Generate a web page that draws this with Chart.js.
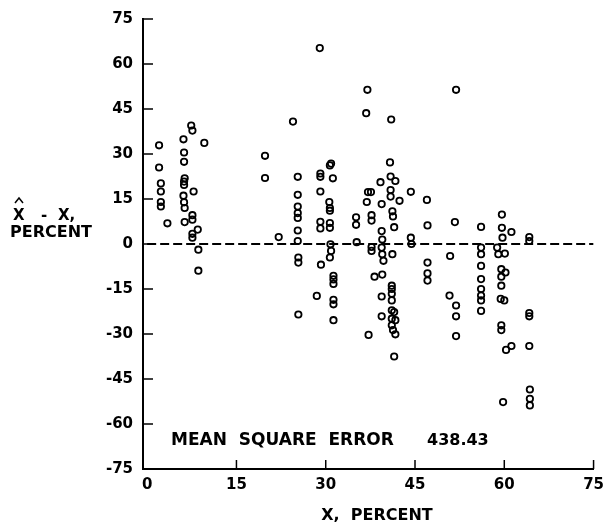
<!DOCTYPE html>
<html>
<head>
<meta charset="utf-8">
<script src="https://cdn.jsdelivr.net/npm/chart.js@4"></script>
<style>
  body { margin: 0; background: #fff; }
  canvas { display: block; }
</style>
</head>
<body>
<canvas id="errChart" width="611" height="527"></canvas>
<script>
// observed X, percent
var xPct = [
    2.0, 2.0, 2.3, 2.3, 2.3, 2.3, 3.4,
    7.4, 7.6, 6.1, 9.6, 6.2, 6.2, 6.3, 6.2, 6.2, 6.1, 6.2, 6.3, 7.8, 7.6, 7.6, 6.3, 8.5, 7.6, 7.6, 8.6, 8.6,
    19.8, 19.8, 22.1, 24.5,
    25.3, 25.3, 25.3, 25.3, 25.3, 25.3, 25.3, 25.4, 25.4, 25.4,
    29.0, 28.5, 29.2, 29.1, 29.1, 29.1, 29.1, 29.1,
    30.7, 30.9, 31.2, 30.6, 30.7, 30.7, 30.7, 30.7, 30.8, 30.9, 30.7, 31.3, 31.3, 31.3, 31.3, 31.3, 31.3,
    35.1, 35.1, 35.2,
    37.0, 36.8, 37.1, 37.6, 36.9, 37.7, 37.7, 37.7, 37.7, 38.2, 37.2,
    39.2, 39.4, 39.4, 39.5, 39.4, 39.5, 39.7, 39.5, 39.4, 39.4,
    41.0, 40.8, 40.9, 41.7, 40.9, 40.9, 42.4, 41.2, 41.3, 41.5, 41.2, 41.1, 41.1, 41.1, 41.1, 41.1, 41.5, 41.1, 41.7, 41.1, 41.3, 41.7, 41.5,
    44.3, 44.3, 44.4,
    47.0, 47.1, 47.1, 47.1, 47.1,
    51.9, 51.7, 50.9, 50.8, 51.9, 51.9, 51.9,
    56.1, 56.1, 56.1, 56.1, 56.1, 56.1, 56.1, 56.1, 56.1,
    59.6, 59.6, 59.7, 58.8, 59.0, 60.1, 59.5, 60.2, 59.5, 59.5, 59.4, 60.0, 59.5, 59.5, 60.3, 59.8,
    61.2, 61.2,
    64.2, 64.2, 64.2, 64.2, 64.2, 64.3, 64.3, 64.3
];
// estimate minus observed, percent
var errPct = [
    32.9, 25.5, 20.2, 17.5, 14.0, 12.5, 6.9,
    39.5, 37.8, 34.9, 33.7, 30.5, 27.4, 21.9, 20.8, 19.7, 16.1, 13.9, 12.0, 17.5, 9.6, 8.1, 7.3, 4.8, 3.4, 2.1, -1.9, -8.9,
    29.4, 22.0, 2.3, 40.8,
    22.4, 16.4, 12.5, 10.3, 8.7, 4.5, 1.0, -4.5, -6.2, -23.5,
    65.3, -17.3, -6.9, 23.5, 22.4, 17.5, 7.4, 5.2,
    26.2, 26.8, 21.9, 14.0, 12.0, 11.1, 7.0, 5.4, -0.1, -2.3, -4.5, -10.6, -11.8, -13.3, -18.6, -20.1, -25.4,
    8.9, 6.4, 0.6,
    51.4, 43.6, 17.3, 17.3, 14.0, 9.6, 7.8, -1.0, -2.3, -10.9, -30.3,
    20.6, 13.3, 4.3, 1.5, -1.2, -3.4, -5.6, -10.2, -17.5, -24.1,
    41.5, 27.2, 22.5, 21.0, 18.0, 15.8, 14.4, 10.9, 9.2, 5.6, -3.4, -13.9, -15.0, -16.6, -18.8, -22.1, -22.7, -24.9, -25.4, -27.1, -28.7, -30.1, -37.5,
    17.4, 2.1, 0.0,
    14.7, 6.2, -6.2, -9.8, -12.2,
    51.4, 7.3, -4.0, -17.2, -20.5, -24.1, -30.7,
    5.7, -1.2, -3.4, -7.3, -11.7, -15.0, -17.2, -18.8, -22.3,
    9.8, 5.4, 2.1, -1.2, -3.4, -3.2, -8.4, -9.5, -10.9, -13.9, -18.3, -18.8, -27.1, -28.7, -35.3, -52.7,
    4.0, -34.0,
    2.3, 1.0, -23.0, -24.1, -34.0, -48.5, -51.6, -53.8
];
var zeroX = [0, 75];
var zeroY = [0, 0];
var xTicks = [0, 15, 30, 45, 60, 75];
var yTicks = [-75, -60, -45, -30, -15, 0, 15, 30, 45, 60, 75];
var mseLabel = 'MEAN  SQUARE  ERROR';
var mseValue = '438.43';

var points = xPct.map(function (x, i) { return { x: x, y: errPct[i] }; });
var zeroLine = zeroX.map(function (x, i) { return { x: x, y: zeroY[i] }; });

var FONT = '"DejaVu Sans", sans-serif';

var decorations = {
    id: 'decorations',
    afterDraw: function (chart) {
        var c = chart.ctx;
        var xs = chart.scales.x, ys = chart.scales.y;
        var area = chart.chartArea;
        c.save();
        c.strokeStyle = '#000';
        c.lineWidth = 1.5;
        // inward tick marks
        yTicks.forEach(function (v) {
            var py = ys.getPixelForValue(v);
            c.beginPath();
            c.moveTo(area.left, py);
            c.lineTo(area.left + 10, py);
            c.stroke();
        });
        xTicks.forEach(function (v) {
            if (v === 0) return;
            var px = xs.getPixelForValue(v);
            c.beginPath();
            c.moveTo(px, area.bottom);
            c.lineTo(px, area.bottom - 9);
            c.stroke();
        });

        c.fillStyle = '#000';
        // annotation
        c.font = 'bold 17px ' + FONT;
        c.textBaseline = 'alphabetic';
        c.textAlign = 'left';
        c.fillText(mseLabel, 171, 445);
        c.font = 'bold 16px ' + FONT;
        c.fillText(mseValue, 427, 445);

        // y title: X-hat minus X, PERCENT
        c.font = 'bold 15px ' + FONT;
        c.fillText('X', 13, 220);
        c.fillText('-', 41, 220);
        c.fillText('X,', 58, 220);
        c.lineWidth = 1.5;
        c.beginPath();
        c.moveTo(15, 203);
        c.lineTo(19, 198);
        c.lineTo(23, 203);
        c.stroke();
        c.font = 'bold 16px ' + FONT;
        c.fillText('PERCENT', 10, 237);

        // x title
        c.textAlign = 'center';
        c.fillText('X,  PERCENT', 377, 520);
        c.restore();
    }
};

var ctx = document.getElementById('errChart');
var errChart = new Chart(ctx, {
    type: 'scatter',
    data: {
        datasets: [{
            type: 'line',
            data: zeroLine,
            borderColor: '#000',
            borderWidth: 1.8,
            borderDash: [9, 4],
            pointRadius: 0,
            fill: false
        }, {
            data: points,
            pointRadius: 3.2,
            pointBorderWidth: 1.8,
            pointBorderColor: '#000',
            pointBackgroundColor: 'rgba(255,255,255,0)'
        }]
    },
    options: {
        responsive: false,
        animation: false,
        layout: { padding: { left: 0, top: 15, right: 12, bottom: 0 } },
        plugins: { legend: { display: false }, tooltip: { enabled: false } },
        scales: {
            x: {
                type: 'linear',
                min: -0.7,
                max: 75,
                afterBuildTicks: function (s) {
                    s.ticks = xTicks.map(function (v) { return { value: v }; });
                },
                afterFit: function (s) { s.height = 58; },
                grid: { drawOnChartArea: false, drawTicks: false },
                border: { display: true, color: '#000', width: 2 },
                ticks: {
                    padding: 7,
                    color: '#000',
                    maxRotation: 0,
                    font: { family: FONT, size: 15, weight: 'bold' }
                }
            },
            y: {
                type: 'linear',
                min: -75,
                max: 75,
                afterBuildTicks: function (s) {
                    s.ticks = yTicks.map(function (v) { return { value: v }; });
                },
                afterFit: function (s) { s.width = 143; },
                grid: { drawOnChartArea: false, drawTicks: false },
                border: { display: true, color: '#000', width: 2 },
                ticks: {
                    padding: 10,
                    color: '#000',
                    font: { family: FONT, size: 15, weight: 'bold' }
                }
            }
        }
    },
    plugins: [decorations]
});
</script>
</body>
</html>
